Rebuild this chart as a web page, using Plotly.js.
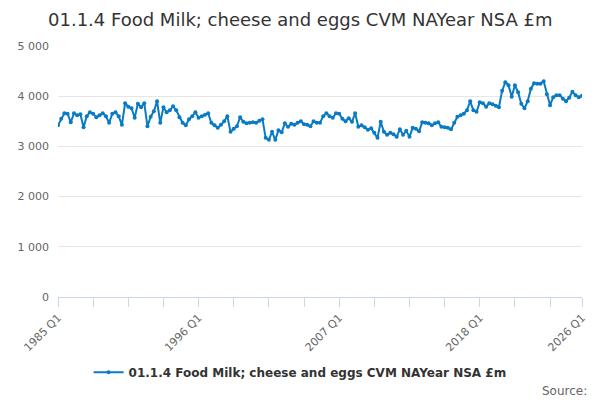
<!DOCTYPE html>
<html>
<head>
<meta charset="utf-8">
<script src="https://cdn.plot.ly/plotly-3.0.1.min.js"></script>
<style>
  html, body { margin: 0; padding: 0; background: #fff; }
  #chart { width: 600px; height: 400px; }
</style>
</head>
<body>
<div id="chart"></div>
<script>
// quarterly values, 1985 Q1 .. 2026 Q1
const values = [
  3420, 3550, 3660, 3650, 3480, 3660, 3620, 3640, 3380, 3600, 3680, 3650, 3580, 3620, 3660, 3600,
  3470, 3650, 3680, 3600, 3430, 3860, 3790, 3760, 3570, 3850, 3780, 3860, 3400, 3590, 3700, 3900,
  3470, 3780, 3680, 3720, 3800, 3720, 3580, 3470, 3420, 3540, 3600, 3680, 3570, 3600, 3630, 3660,
  3470, 3420, 3370, 3430, 3500, 3600, 3290, 3350, 3400, 3580, 3490, 3460, 3470, 3480, 3470, 3510,
  3540, 3170, 3130, 3290, 3130, 3320, 3280, 3460, 3390, 3450, 3430, 3470, 3500, 3440, 3430, 3400,
  3500, 3470, 3470, 3600, 3660, 3600, 3570, 3660, 3650, 3550, 3500, 3560, 3490, 3660, 3390, 3420,
  3380, 3330, 3360, 3270, 3170, 3490, 3290, 3230, 3270, 3240, 3190, 3340, 3230, 3310, 3190, 3370,
  3350, 3300, 3480, 3470, 3460, 3420, 3460, 3480, 3390, 3380, 3370, 3340, 3470, 3590, 3620, 3650,
  3720, 3900, 3720, 3690, 3880, 3860, 3790, 3860, 3840, 3810, 3780, 4110, 4280, 4220, 3990, 4220,
  4080, 3850, 3760, 3900, 4150, 4260, 4250, 4250, 4300, 4040, 3820, 3980, 4020, 4020, 3950, 3900,
  3970, 4090, 4020, 3980, 4010
];

const seriesName = "01.1.4 Food Milk; cheese and eggs CVM NAYear NSA £m";
const labelYears = ["1985 Q1", "1996 Q1", "2007 Q1", "2018 Q1", "2026 Q1"];

let quarters = [];
for (let i = 0; i < values.length; i++) {
  quarters.push((1985 + Math.floor(i / 4)) + " Q" + (i % 4 + 1));
}

// tick marks every 11 quarters, plus the last one
let tickVals = [];
let tickText = [];
for (let i = 0; i < quarters.length; i += 11) {
  tickVals.push(quarters[i]);
}
tickVals.push(quarters[quarters.length - 1]);
tickVals.forEach(q => tickText.push(labelYears.includes(q) ? q : ""));

const blue = "#0a7bc2";

let trace = {
  x: quarters,
  y: values,
  name: seriesName,
  type: "scatter",
  mode: "lines+markers",
  line: { color: blue, width: 2 },
  marker: { color: blue, size: 4 }
};

let layout = {
  width: 600,
  height: 400,
  margin: { l: 58, r: 18, t: 46, b: 103 },
  font: { family: "DejaVu Sans, sans-serif", color: "#666" },
  separators: ". ",
  title: {
    text: "01.1.4 Food Milk; cheese and eggs CVM NAYear NSA £m",
    font: { size: 18, color: "#333" },
    x: 0.08, xref: "container", xanchor: "left",
    y: 0.95, yref: "container", yanchor: "middle"
  },
  xaxis: {
    type: "category",
    range: [0, quarters.length - 1],
    tickvals: tickVals,
    ticktext: tickText,
    tickangle: -45,
    ticks: "outside",
    ticklen: 9,
    tickcolor: "#ccd6eb",
    showline: true,
    linecolor: "#ccd6eb",
    showgrid: false,
    zeroline: false,
    automargin: false,
    tickfont: { size: 11, color: "#666" }
  },
  yaxis: {
    range: [0, 5000],
    dtick: 1000,
    tickformat: ",d",
    gridcolor: "#e6e6e6",
    zeroline: false,
    showline: false,
    ticks: "",
    automargin: false,
    ticklabelstandoff: 8,
    tickfont: { size: 11, color: "#666" }
  },
  showlegend: true,
  legend: {
    orientation: "h",
    x: 0.462, xanchor: "center",
    y: -0.30, yanchor: "middle",
    font: { size: 12, color: "#333", weight: "bold" }
  },
  annotations: [{
    text: "Source:",
    xref: "paper", yref: "paper",
    x: 1.013, xanchor: "right",
    y: -0.337, yanchor: "top",
    showarrow: false,
    font: { size: 12, color: "#666" }
  }],
  plot_bgcolor: "#fff",
  paper_bgcolor: "#fff"
};

Plotly.newPlot("chart", [trace], layout, { displayModeBar: false, staticPlot: true });
</script>
</body>
</html>
